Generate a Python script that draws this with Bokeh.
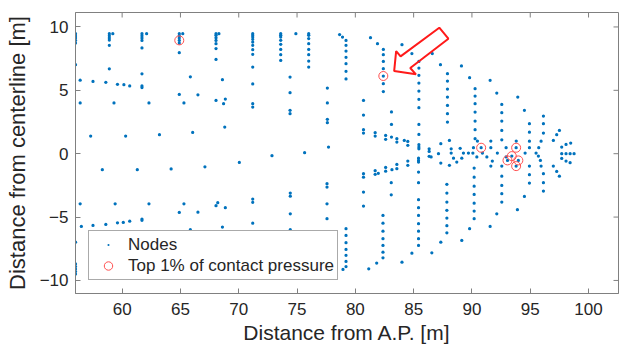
from bokeh.plotting import figure
from bokeh.models import Range1d, FixedTicker, Legend, LegendItem
from bokeh.embed import file_html
from bokeh.resources import INLINE

# ---------------- data ----------------
x_ticks = [60, 65, 70, 75, 80, 85, 90, 95, 100]
y_ticks = [-10, -5, 0, 5, 10]

# Nodes: upper side (y > 0)
node_x_upper = [
    56.0, 56.0, 56.0, 56.0, 56.0, 56.0,
    56.4, 56.4, 57.5, 58.6, 59.6, 60.15, 60.65,
    58.9, 58.9, 58.9, 58.9, 58.9, 58.9, 59.2, 59.3,
    61.7, 61.7, 61.7, 61.7, 61.7, 61.7, 61.7, 61.7, 62.1, 62.3,
    64.9, 64.9, 64.9, 64.9, 64.9, 64.9, 64.9, 65.2, 65.3, 65.85, 66.5,
    68.05, 68.05, 68.05, 68.05, 68.05, 68.05, 68.05, 68.05, 68.3, 68.7, 68.6, 68.85,
    71.2, 71.2, 71.2, 71.2, 71.2, 71.2, 71.2, 71.2, 71.2, 71.2, 71.2, 71.2,
    73.6, 73.6, 73.6, 73.6, 73.6, 73.6, 73.6, 73.6, 74.9,
    74.4, 74.4, 74.4, 74.4,
    76.0, 76.0, 76.0, 76.0, 76.0, 76.0, 76.0, 76.0,
    77.6, 77.6, 77.6, 77.6,
    78.65, 78.9, 79.2, 79.2, 79.2, 79.2, 79.2, 79.2, 79.2,
    80.7, 80.7, 80.7, 80.7,
    81.3, 81.9, 81.7, 81.7,
    82.4, 82.4, 82.4, 82.4, 82.4, 82.4, 82.4,
    82.6, 82.6, 83.1, 83.1, 83.1, 83.56, 83.56,
    84.0, 84.85, 84.2, 84.5, 84.5,
    85.45, 85.45, 85.45, 85.45, 85.45, 85.45, 85.45, 85.45, 85.45, 85.45, 85.45, 85.45,
    86.33, 86.33, 86.6, 87.3, 87.33, 87.13,
    87.9, 87.9, 87.9, 87.9, 87.9, 87.9, 87.9,
    88.07, 88.22, 88.22,
    89.1, 89.8, 88.99, 89.27, 89.7, 90.08,
    90.27, 90.27, 90.27, 90.27, 90.27, 90.27, 90.27, 90.47, 90.13, 90.79,
    91.56, 92.13, 91.62, 91.62, 90.9, 92.18,
    92.56, 92.56, 92.56, 92.56, 92.56, 92.93,
    93.93, 94.5, 93.8, 93.79,
    94.93, 94.93, 94.93, 94.93, 94.56,
    96.13, 96.13, 96.13, 95.93, 95.73, 95.5,
    96.98, 97.27, 97.5, 97.7, 98.07, 98.47,
    97.7, 98.07, 98.42, 98.76,
    57.3, 60.3, 63.2, 66.05, 68.8, 75.65, 77.7,
]
node_y_upper = [
    9.47, 9.29, 9.13, 8.94, 8.73, 7.02,
    5.8, 4.0, 5.7, 5.63, 5.47, 5.44, 5.35,
    9.47, 9.3, 9.13, 8.97, 8.55, 6.7, 9.47, 4.0,
    9.47, 9.3, 9.13, 8.94, 8.34, 6.3, 5.35, 5.22, 9.47, 4.0,
    9.47, 9.3, 9.13, 8.94, 8.73, 7.97, 4.68, 9.47, 4.0, 6.07, 4.65,
    9.47, 9.34, 9.15, 8.94, 8.68, 8.29, 7.44, 4.2, 9.47, 3.95, 5.84, 4.31,
    9.47, 9.34, 9.2, 9.02, 8.81, 8.55, 8.21, 7.84, 6.84, 5.5, 3.95, 3.68,
    9.47, 9.34, 9.2, 8.95, 8.63, 8.23, 7.81, 7.36, 9.47,
    6.05, 4.81, 3.42, 3.16,
    9.47, 9.34, 9.08, 8.68, 8.23, 7.81, 7.31, 6.84,
    5.18, 4.0, 2.71, 2.45,
    9.4, 9.2, 8.94, 8.55, 8.1, 7.6, 7.1, 6.5, 5.9,
    4.2, 3.05, 1.89, 1.63,
    9.15, 8.68, 1.66, 1.39,
    8.23, 7.81, 7.28, 6.71, 6.13, 5.52, 4.9,
    1.44, 1.13, 3.29, 2.31, 1.31, 1.18, 0.92,
    8.6, 7.9, 1.05, 0.97, 0.66,
    7.28, 6.76, 6.18, 5.57, 4.94, 4.29, 3.63, 2.31, 1.52, 0.71, 0.52, 0.39,
    0.39, 0.18, 7.9, 7.02, 0.79, 0.0,
    6.31, 5.73, 5.1, 4.47, 3.81, 3.16, 2.5,
    1.05, 0.39, 0.05,
    6.92, 6.0, 0.42, 0.05, 0.05, 0.05,
    5.13, 4.55, 3.95, 3.28, 2.57, 1.89, 1.18, 1.0, 0.47, 0.47,
    5.79, 4.78, 1.0, 0.47, 0.05, 0.05,
    3.89, 3.24, 2.57, 1.84, 1.1, 0.47,
    4.47, 3.42, 1.0, 0.47,
    2.37, 1.7, 0.99, 0.47, 0.05,
    2.97, 2.37, 1.63, 0.99, 0.47, 0.05,
    1.05, 1.5, 1.84, 0.52, 0.73, 0.84,
    0.0, 0.0, 0.0, 0.0,
    1.39, 1.39, 1.5, 1.68, 2.1, 0.08, 0.52,
]

# Nodes: lower side (y < 0)
node_x_lower = [
    56.0, 56.0, 56.0, 56.0, 56.0, 56.0,
    56.4, 59.4, 62.3, 65.3,
    56.5, 57.5, 58.6, 59.6, 60.1, 60.65, 61.7, 61.7,
    64.9, 66.5, 65.85,
    68.2, 68.05, 68.85, 68.6,
    71.2, 71.2, 71.2,
    74.42, 74.42, 74.42, 74.42,
    77.57, 77.57, 77.57, 77.57,
    79.2, 79.2, 79.2, 79.2, 79.2, 79.2, 79.2, 78.94,
    80.7, 80.7, 80.7, 80.7,
    81.7, 81.7, 81.97,
    82.6, 82.6, 83.14, 83.08, 83.08, 83.56, 83.56,
    82.37, 82.37, 82.37, 82.37, 82.37, 82.37, 82.37, 81.83, 81.15,
    84.5, 84.5, 84.85, 84.0,
    85.42, 85.42, 85.42, 85.42, 85.42, 85.42, 85.42, 85.42, 85.42, 85.42, 85.42, 85.42,
    86.33, 86.5, 87.33, 88.07, 88.42, 88.7, 89.13,
    87.33, 86.56,
    87.85, 87.85, 87.85, 87.85, 87.85, 87.85, 87.85,
    89.8, 89.13,
    90.19, 90.19, 90.19, 90.19, 90.19, 90.19, 90.19,
    90.42, 91.28, 91.75, 91.62, 92.93,
    91.56, 92.13, 93.9, 94.5,
    92.56, 92.56, 92.56, 92.56, 92.56,
    93.42, 93.05, 93.98, 93.79,
    94.93, 94.93, 94.93,
    95.7, 95.87, 95.93,
    96.13, 96.13, 96.13,
    96.98, 97.27, 97.5,
    97.7, 98.07, 98.42,
    58.3, 61.3, 64.2, 67.1, 70.05, 72.85,
]
node_y_lower = [
    -6.98, -8.7, -8.9, -9.1, -9.3, -9.5,
    -3.95, -3.95, -3.95, -3.95,
    -5.74, -5.66, -5.58, -5.45, -5.42, -5.32, -5.16, -5.26,
    -4.63, -4.61, -6.0,
    -3.87, -4.1, -4.26, -5.79,
    -3.58, -3.84, -5.48,
    -3.11, -3.35, -4.74, -6.0,
    -2.37, -2.63, -3.95, -5.13,
    -5.92, -6.45, -7.02, -7.55, -8.02, -8.5, -8.9, -9.13,
    -1.58, -1.85, -3.03, -4.13,
    -1.34, -1.63, -1.55,
    -1.08, -1.38, -1.26, -2.29, -3.24, -0.85, -1.18,
    -4.87, -5.48, -6.11, -6.71, -7.24, -7.77, -8.21, -8.63, -9.08,
    -0.58, -0.92, -7.85, -8.56,
    -0.35, -0.53, -0.66, -1.45, -2.29, -3.63, -4.26, -4.87, -5.52, -6.11, -6.71, -7.24,
    -0.21, -0.26, -0.74, -0.92, -0.35, -0.66, -0.35,
    -6.98, -7.82,
    -2.42, -3.11, -3.82, -4.47, -5.08, -5.68, -6.24,
    -5.92, -6.84,
    -1.13, -1.85, -2.56, -3.21, -3.9, -4.53, -5.13,
    -0.26, -0.26, -0.58, -0.98, -0.26,
    -5.74, -4.74, -4.42, -3.37,
    -0.98, -1.77, -2.5, -3.16, -3.82,
    -0.19, -0.53, -0.53, -0.98,
    -0.98, -1.66, -2.32,
    -0.19, -0.53, -0.98,
    -1.58, -2.29, -2.95,
    -0.98, -1.4, -1.77,
    -0.37, -0.58, -0.71,
    -1.26, -1.26, -1.2, -1.03, -0.69, -0.16,
]

# Top 1% of contact pressure
top_x = [64.9, 82.4, 90.79, 93.79, 93.42, 93.05, 93.98, 93.79]
top_y = [8.94, 6.13, 0.47, 0.47, -0.19, -0.53, -0.53, -0.98]

# Red block-arrow annotation outline (data units)
arrow_x = [83.33, 83.5, 83.88, 87.2, 87.98, 84.71, 85.2]
arrow_y = [6.52, 8.1, 7.68, 9.94, 9.07, 6.76, 6.26]

# ---------------- figure ----------------
FONT = "Liberation Sans"
TXT = "#262626"
AX = "#808080"

W, H = 624, 350
BL, BR, BT, BB = 75, 6, 12, 57
X0, X1 = 56.0, 102.57
Y0, Y1 = -11.03, 11.14

p = figure(width=W, height=H, output_backend="svg", toolbar_location=None,
           x_range=Range1d(X0, X1), y_range=Range1d(Y0, Y1),
           min_border_left=BL, min_border_right=BR, min_border_top=BT,
           min_border_bottom=BB)
p.grid.visible = False
p.outline_line_color = AX
p.outline_line_width = 1
p.background_fill_color = "white"
p.border_fill_color = "white"

xa = p.xaxis[0]
xa.ticker = FixedTicker(ticks=x_ticks)
xa.axis_label = "Distance from A.P. [m]"
ya = p.yaxis[0]
ya.ticker = FixedTicker(ticks=y_ticks)
ya.axis_label = "Distance from centerline [m]"

for ax in (xa, ya):
    ax.major_tick_in = 5
    ax.major_tick_out = 0
    ax.minor_tick_in = 0
    ax.minor_tick_out = 0
    ax.axis_line_color = AX
    ax.major_tick_line_color = AX
    ax.major_label_text_font = FONT
    ax.major_label_text_font_size = "17px"
    ax.major_label_text_color = TXT
    ax.axis_label_text_font = FONT
    ax.axis_label_text_font_style = "normal"
    ax.axis_label_text_color = TXT
xa.axis_label_text_font_size = "21px"
ya.axis_label_text_font_size = "22px"
xa.major_label_standoff = 9
xa.axis_label_standoff = 3
ya.major_label_standoff = 7
ya.axis_label_standoff = 7

# inward ticks on the top and right edges of the box (5 px long)
tick_len_y = 5 * (Y1 - Y0) / (H - BT - BB)
tick_len_x = 5 * (X1 - X0) / (W - BL - BR)
p.segment(x0=x_ticks, y0=[Y1] * len(x_ticks), x1=x_ticks,
          y1=[Y1 - tick_len_y] * len(x_ticks), line_color=AX, line_width=1)
p.segment(x0=[X1] * len(y_ticks), y0=y_ticks, x1=[X1 - tick_len_x] * len(y_ticks),
          y1=y_ticks, line_color=AX, line_width=1)

nodes_x = node_x_upper + node_x_lower
nodes_y = node_y_upper + node_y_lower

r_nodes = p.scatter(nodes_x, nodes_y, marker="dot", size=13,
                    line_color="#0072BD", fill_color="#0072BD")
r_top = p.scatter(top_x, top_y, marker="circle", size=9, fill_color=None,
                  line_color="#ff5050", line_width=1)

p.patch(arrow_x, arrow_y, fill_alpha=0, line_color="#ff1a1a", line_width=2)

legend = Legend(items=[LegendItem(label="Nodes", renderers=[r_nodes]),
                       LegendItem(label="Top 1% of contact pressure", renderers=[r_top])],
                location=(13, 13), margin=0, padding=3, spacing=0,
                glyph_width=32, glyph_height=21, label_height=21, label_standoff=4,
                label_text_font=FONT, label_text_font_size="17px",
                label_text_color=TXT, border_line_color="#555555",
                border_line_width=1, background_fill_color="white",
                background_fill_alpha=1.0)
p.add_layout(legend)

open("out.html", "w").write(file_html(p, INLINE))
